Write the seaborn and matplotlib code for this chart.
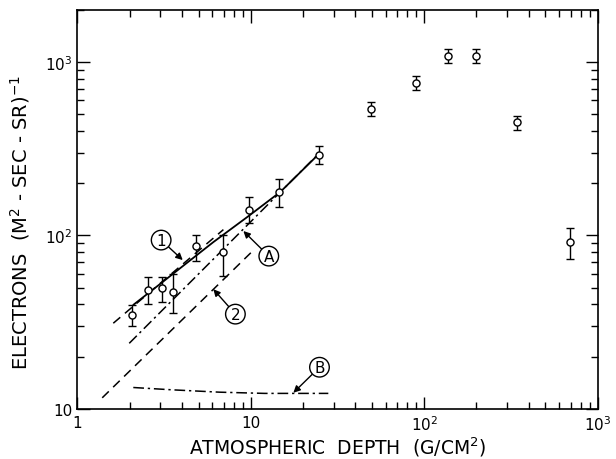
import numpy as np
import pandas as pd
from matplotlib import pyplot as plt
import seaborn as sns

# measured points
depth = [2.07, 2.57, 3.07, 3.57, 4.83, 6.9, 9.7, 14.6, 24.9, 49.4, 89.9, 138, 199.5, 343, 695]
flux = [34.8, 48.5, 49.8, 47.2, 86.4, 80.2, 139.8, 178, 292, 535, 760, 1082, 1082, 448, 92]
flux_hi = [39.8, 57.6, 57.9, 59.7, 101, 101, 167, 211, 329, 586, 834, 1188, 1188, 489, 110]
flux_lo = [30.1, 40.3, 41.2, 35.8, 71.1, 58.7, 118, 145.5, 258, 485, 690, 983, 983, 406, 72.8]

# calculated curves
c1_x = [1.61, 6.95]
c1_y = [31.2, 108]
cA_x = [2.1, 3.07, 6.08, 9.68, 14.8, 25]
cA_y = [39.8, 53.5, 91.5, 129, 178, 298]
cAdd_x = [1.99, 25]
cAdd_y = [23.9, 300]
c2_x = [1.39, 10.0]
c2_y = [11.6, 79.4]
cB_x = [2.1, 3.5, 6.6, 12, 28]
cB_y = [13.3, 12.9, 12.5, 12.3, 12.3]

# circled labels: text, label pos, arrow tip
labels = ["1", "A", "2", "B"]
label_xy = [(3.04, 94), (12.7, 76), (8.15, 35.2), (24.9, 17.4)]
tip_xy = [(4.05, 72.1), (9.06, 106), (6.08, 49), (17.6, 12.4)]

sns.set_style("ticks", rc={'text.color': 'black', 'axes.labelcolor': 'black',
                           'xtick.color': 'black', 'ytick.color': 'black',
                           'axes.edgecolor': 'black'})
plt.rcParams['font.family'] = ['DejaVu Sans']

fig = plt.figure(figsize=(6.16, 4.6), dpi=100)
ax = fig.add_axes([0.1257, 0.1087, 0.8443, 0.8683])

df = pd.DataFrame({'depth': depth, 'flux': flux})
yerr = [np.array(flux) - np.array(flux_lo), np.array(flux_hi) - np.array(flux)]
ax.errorbar(depth, flux, yerr=yerr, fmt='none', ecolor='black', elinewidth=1.0,
            capsize=3, capthick=1.0, zorder=2)
sns.scatterplot(data=df, x='depth', y='flux', ax=ax, marker='o', s=26,
                facecolor='white', edgecolor='black', linewidth=1.0, zorder=3)

sns.lineplot(x=c1_x, y=c1_y, ax=ax, color='black', lw=1.1, linestyle=(0, (6, 4)),
             sort=False, estimator=None)
sns.lineplot(x=cA_x, y=cA_y, ax=ax, color='black', lw=1.3, linestyle='-',
             sort=False, estimator=None)
sns.lineplot(x=cAdd_x, y=cAdd_y, ax=ax, color='black', lw=1.1, linestyle=(0, (7, 2.5, 1.5, 2.5)),
             sort=False, estimator=None)
sns.lineplot(x=c2_x, y=c2_y, ax=ax, color='black', lw=1.1, linestyle=(0, (6, 4)),
             sort=False, estimator=None)
sns.lineplot(x=cB_x, y=cB_y, ax=ax, color='black', lw=1.1, linestyle=(0, (7, 2.5, 1.5, 2.5)),
             sort=False, estimator=None)

for t, xy, tip in zip(labels, label_xy, tip_xy):
    ax.annotate(t, xy=tip, xytext=xy, ha='center', va='center', fontsize=11,
                bbox=dict(boxstyle='circle,pad=0.15', fc='white', ec='black', lw=1.0),
                arrowprops=dict(arrowstyle='-|>', color='black', lw=1.0,
                                mutation_scale=10, shrinkA=0, shrinkB=0))

ax.set_xscale('log')
ax.set_yscale('log')
ax.set_xlim(1, 1000)
ax.set_ylim(10, 2000)
ax.set_xticks([1, 10, 100, 1000])
ax.set_xticklabels(['1', '10', '$10^2$', '$10^3$'])
ax.set_yticks([10, 100, 1000])
ax.set_yticklabels(['10', '$10^2$', '$10^3$'])
ax.tick_params(which='both', direction='in', top=True, right=True, labelsize=11, width=1.0)
ax.tick_params(which='major', length=9)
ax.tick_params(which='minor', length=5)
ax.tick_params(axis='x', pad=4)
for s in ax.spines.values():
    s.set_linewidth(1.2)

ax.set_xlabel('ATMOSPHERIC  DEPTH  (G/CM$^2$)', fontsize=13.5, labelpad=1)
ax.set_ylabel('ELECTRONS  (M$^2$ - SEC - SR)$^{-1}$', fontsize=14)
ax.yaxis.set_label_coords(-0.088, 0.47)

fig.savefig('out.png', dpi=100)
